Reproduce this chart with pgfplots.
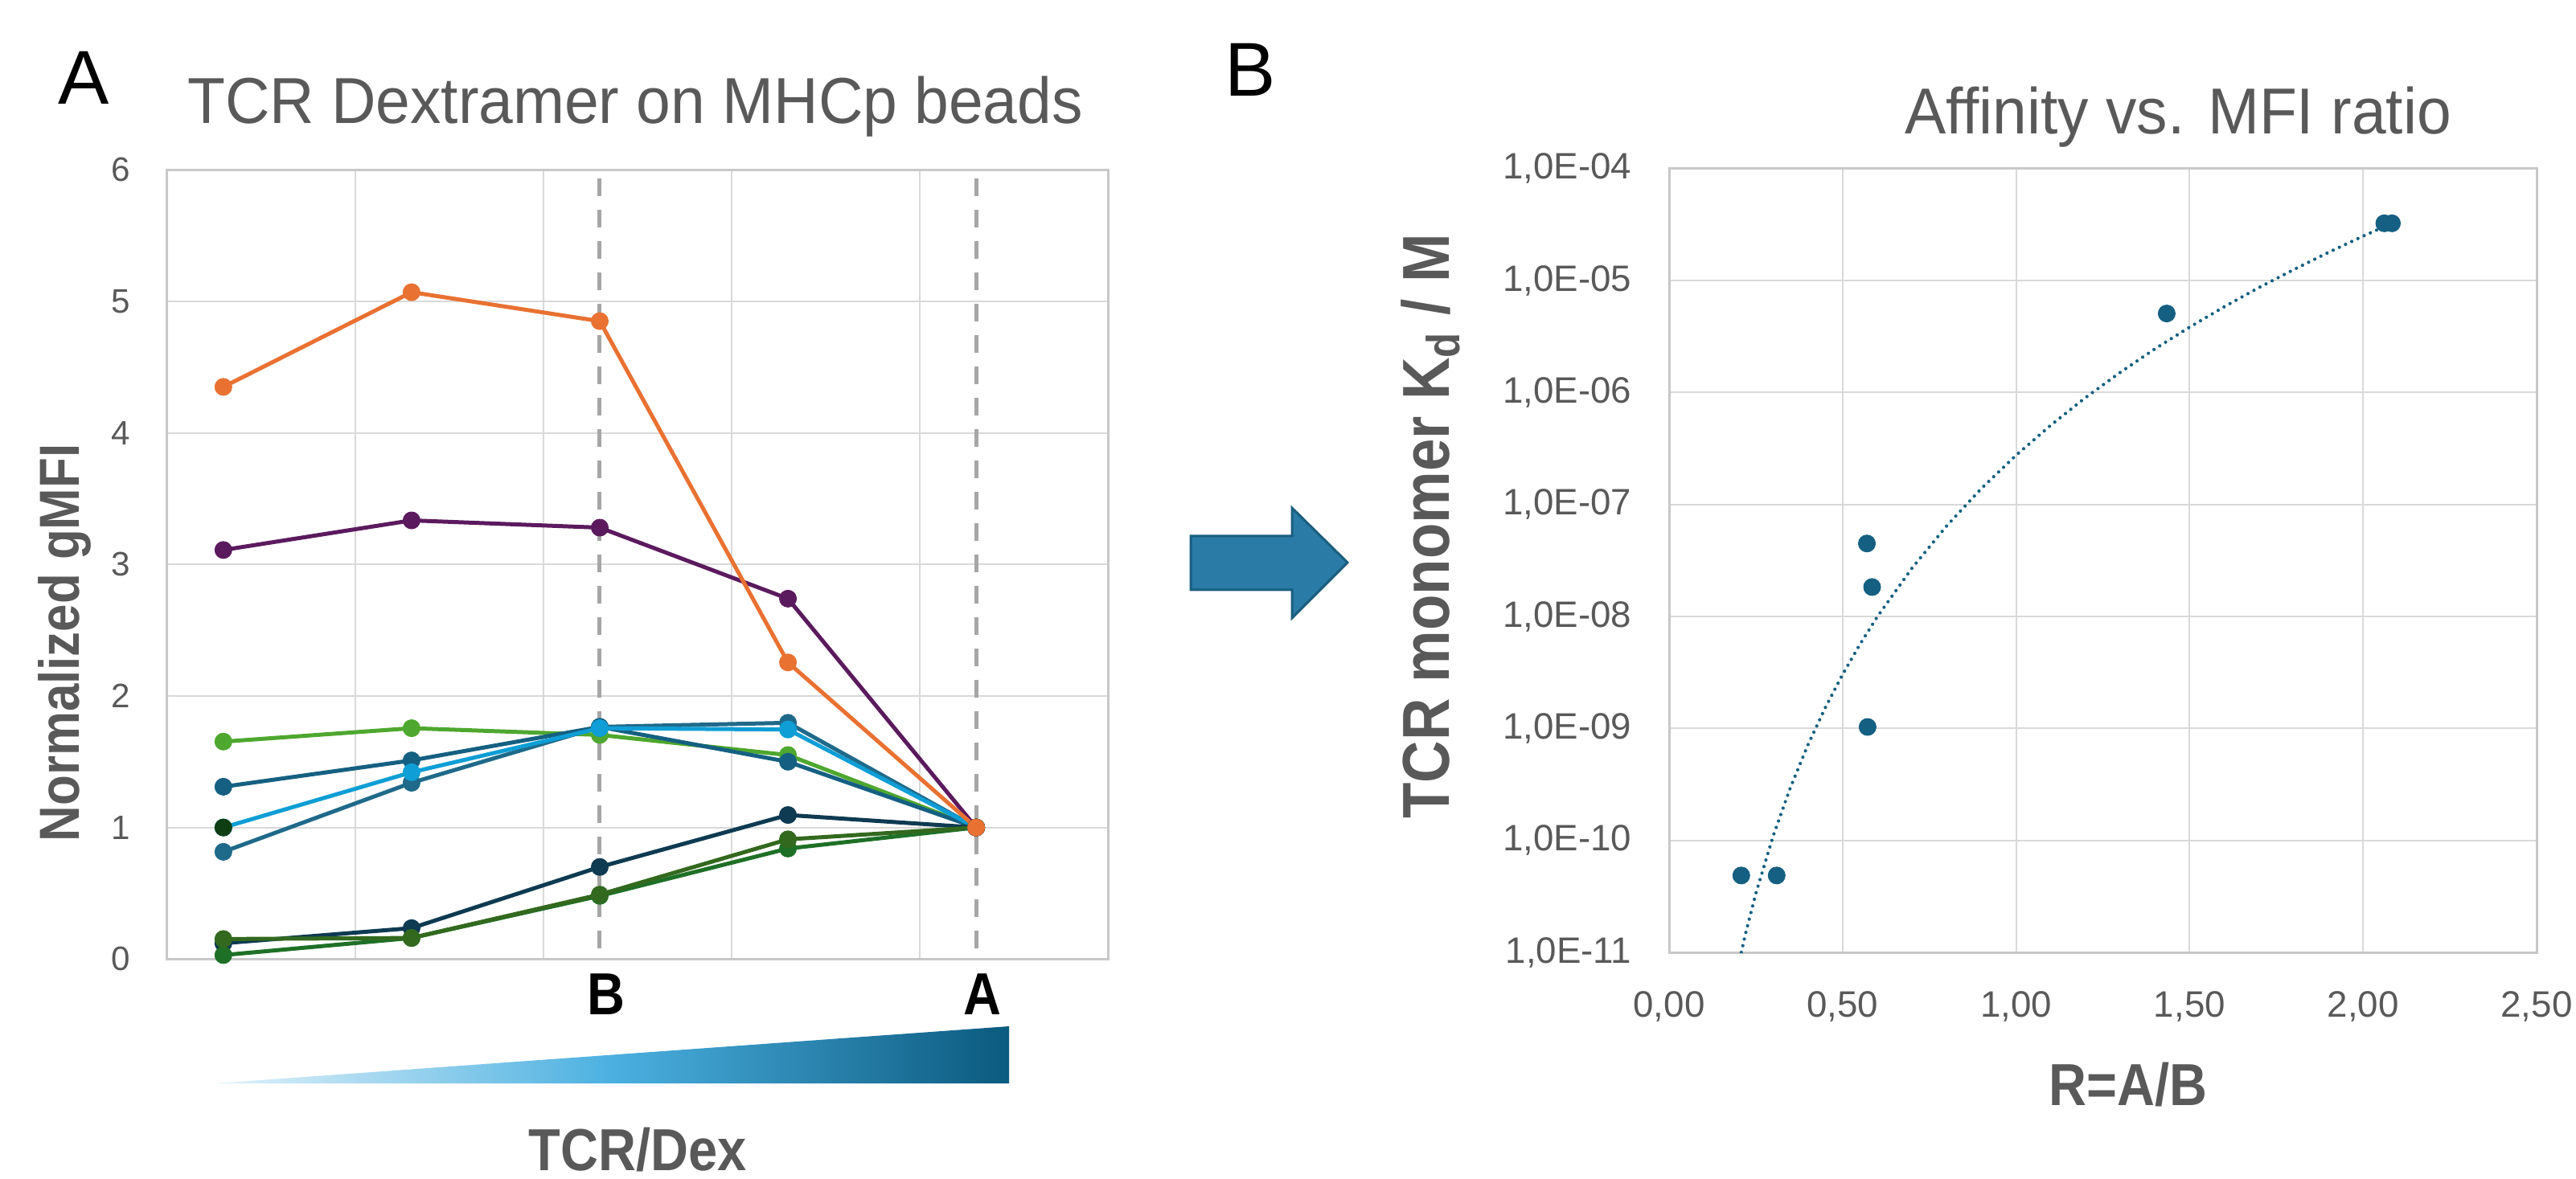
\documentclass[border=0pt]{standalone}
\usepackage{fontspec}
\setmainfont{Liberation Sans}
\newfontfamily\narrowfont[FakeStretch=0.88]{Liberation Sans}
\newfontfamily\titfont[FakeStretch=0.95]{Liberation Sans}
\usepackage{pgfplots}
\pgfplotsset{compat=1.18}
\definecolor{gridc}{HTML}{D9D9D9}
\definecolor{axc}{HTML}{C8C8C8}
\definecolor{tickc}{HTML}{595959}
\definecolor{titc}{HTML}{595959}
\definecolor{sOrange}{HTML}{E97132}
\definecolor{sPurple}{HTML}{5C1A5E}
\definecolor{sLGreen}{HTML}{4EA72E}
\definecolor{sTeal}{HTML}{156082}
\definecolor{sLBlue}{HTML}{0F9ED5}
\definecolor{sMBlue}{HTML}{1F6A8A}
\definecolor{sDGreen}{HTML}{0F3D14}
\definecolor{sNavy}{HTML}{0E3A52}
\definecolor{sOlive}{HTML}{33691E}
\definecolor{sGreen}{HTML}{1E7027}
\definecolor{dashc}{HTML}{A6A6A6}
\definecolor{arrowfill}{HTML}{2A7BA5}
\definecolor{arrowdraw}{HTML}{1A5E80}
\definecolor{gradL}{HTML}{E3F3FB}
\definecolor{gradM}{HTML}{4BB0E0}
\definecolor{gradR}{HTML}{0B5A7F}
\pgfplotsset{
  ser/.style={color=#1, line width=0.5mm, mark=*, mark size=1.05mm, mark options={solid, line width=0.1mm, fill=#1}},
}
\begin{document}
\begin{tikzpicture}
\path[use as bounding box] (0,0) rectangle (320.4mm,146.7mm);
% ---------------- left panel ----------------
\begin{axis}[
  at={(20.76mm,27.37mm)}, anchor=south west,
  scale only axis, width=117.04mm, height=98.19mm,
  xmin=0, xmax=5, ymin=0, ymax=6,
  xtick={0,1,2,3,4,5}, xticklabels={},
  ytick={0,1,2,3,4,5,6}, yticklabels={0,1,2,3,4,5,6},
  grid=major, major grid style={draw=gridc, line width=0.2mm},
  major tick length=0pt,
  axis line style={draw=axc, line width=0.3mm},
  yticklabel style={font=\fontsize{12}{12}\selectfont, text=tickc, inner sep=0pt, xshift=-4.5mm},
  clip=false,
]
\addplot[ser=sLGreen] coordinates {(0.3,1.653)(1.3,1.755)(2.3,1.704)(3.3,1.551)(4.3,1.0)};
\addplot[ser=sMBlue] coordinates {(0.3,0.815)(1.3,1.34)(2.3,1.765)(3.3,1.796)(4.3,1.0)};
\addplot[ser=sTeal] coordinates {(0.3,1.31)(1.3,1.51)(2.3,1.765)(3.3,1.50)(4.3,1.0)};
\addplot[ser=sLBlue] coordinates {(0.3,1.0)(1.3,1.42)(2.3,1.755)(3.3,1.745)(4.3,1.0)};
\addplot[ser=sDGreen, only marks] coordinates {(0.3,1.0)};
\addplot[ser=sNavy] coordinates {(0.3,0.12)(1.3,0.235)(2.3,0.70)(3.3,1.095)(4.3,1.0)};
\addplot[ser=sGreen] coordinates {(0.3,0.03)(1.3,0.16)(2.3,0.48)(3.3,0.84)(4.3,1.0)};
\addplot[ser=sOlive] coordinates {(0.3,0.152)(1.3,0.16)(2.3,0.49)(3.3,0.91)(4.3,1.0)};
\addplot[ser=sPurple] coordinates {(0.3,3.11)(1.3,3.335)(2.3,3.28)(3.3,2.74)(4.3,1.0)};
\addplot[ser=sOrange] coordinates {(0.3,4.35)(1.3,5.07)(2.3,4.85)(3.3,2.255)(4.3,1.0)};
\draw[dashc, line width=0.5mm, dash pattern=on 2.2mm off 1.7mm] (axis cs:2.3,5.935) -- (axis cs:2.3,0.08);
\draw[dashc, line width=0.5mm, dash pattern=on 2.2mm off 1.7mm] (axis cs:4.3,5.935) -- (axis cs:4.3,0.08);
\end{axis}
% ---------------- right panel ----------------
\begin{axis}[
  at={(207.6mm,28.2mm)}, anchor=south west,
  scale only axis, width=107.9mm, height=97.54mm,
  xmin=0, xmax=2.5, ymode=log, log basis y=10, ymin=1e-11, ymax=1e-4,
  xtick={0,0.5,1,1.5,2,2.5},
  xticklabels={{0,00},{0,50},{1,00},{1,50},{2,00},{2,50}},
  ytick={1e-11,1e-10,1e-9,1e-8,1e-7,1e-6,1e-5,1e-4},
  yticklabels={{1,0E-11},{1,0E-10},{1,0E-09},{1,0E-08},{1,0E-07},{1,0E-06},{1,0E-05},{1,0E-04}},
  grid=major, major grid style={draw=gridc, line width=0.2mm},
  major tick length=0pt,
  axis line style={draw=axc, line width=0.3mm},
  yticklabel style={font=\fontsize{13}{13}\selectfont, text=tickc, inner sep=0pt, xshift=-4.6mm},
  xticklabel style={font=\fontsize{13}{13}\selectfont, text=tickc, inner sep=0pt, anchor=north, yshift=-4.8mm},
]
\addplot[sTeal, line width=0.42mm, line cap=round, dash pattern=on 0pt off 0.85mm] coordinates {
(0.208,1.0e-11)(0.22,1.46e-11)(0.25,3.36e-11)(0.3,1.10e-10)(0.35,2.99e-10)(0.4,7.12e-10)
(0.45,1.53e-9)(0.5,3.03e-9)(0.55,5.64e-9)(0.6,9.93e-9)(0.7,2.70e-8)(0.8,6.44e-8)(0.9,1.39e-7)
(1.0,2.75e-7)(1.1,5.1e-7)(1.2,9.0e-7)(1.3,1.51e-6)(1.4,2.45e-6)(1.5,3.83e-6)(1.6,5.83e-6)
(1.7,8.65e-6)(1.8,1.25e-5)(1.9,1.78e-5)(2.0,2.49e-5)(2.06,3.01e-5)};
\addplot[only marks, mark=*, mark size=1.05mm, color=sTeal, mark options={fill=sTeal, line width=0.1mm}] coordinates {
(0.208,4.86e-11)(0.310,4.86e-11)(0.570,4.48e-8)(0.585,1.83e-8)(0.572,1.03e-9)(1.434,5.07e-6)(2.061,3.24e-5)(2.083,3.24e-5)};
\end{axis}
% ---------------- annotations (pixel coordinates, y down) ----------------
\begin{scope}[x=0.1mm, y=-0.1mm, shift={(0,146.7mm)}]
\node[anchor=base, inner sep=0pt, font=\fontsize{27}{27}\selectfont] at (104.5,130) {A};
\node[anchor=base, inner sep=0pt, font=\fontsize{27}{27}\selectfont] at (1555,120) {B};
\node[anchor=base, inner sep=0pt, text=titc, font=\titfont\fontsize{23}{23}\selectfont] at (790,154) {TCR Dextramer on MHCp beads};
\node[anchor=base, inner sep=0pt, text=titc, font=\titfont\fontsize{23}{23}\selectfont] at (2709,167) {Affinity vs. MFI ratio};
\node[anchor=base, inner sep=0pt, font=\narrowfont\bfseries\fontsize{21}{21}\selectfont] at (754,1262) {B};
\node[anchor=base, inner sep=0pt, font=\narrowfont\bfseries\fontsize{21}{21}\selectfont] at (1222,1262) {A};
\node[anchor=base, inner sep=0pt, text=titc, font=\narrowfont\bfseries\fontsize{21}{21}\selectfont] at (793,1456) {TCR/Dex};
\node[anchor=base, inner sep=0pt, text=titc, font=\narrowfont\bfseries\fontsize{21}{21}\selectfont] at (2647,1375) {R=A/B};
\node[anchor=base, rotate=90, inner sep=0pt, text=titc, font=\narrowfont\bfseries\fontsize{20}{20}\selectfont] at (98,800) {Normalized gMFI};
\node[anchor=base, rotate=90, inner sep=0pt, text=titc, font=\narrowfont\bfseries\fontsize{23.5}{23.5}\selectfont] at (1802,655) {TCR monomer K\textsubscript{d} / M};
% gradient wedge
\shade[left color=gradL, right color=gradR, middle color=gradM] (268,1348) -- (1255,1348) -- (1255,1277) -- cycle;
% arrow
\draw[fill=arrowfill, draw=arrowdraw, line width=0.3mm, line join=miter] (1481,667) -- (1607,667) -- (1607,632) -- (1676,700) -- (1607,769) -- (1607,734) -- (1481,734) -- cycle;
\end{scope}
\end{tikzpicture}
\end{document}
